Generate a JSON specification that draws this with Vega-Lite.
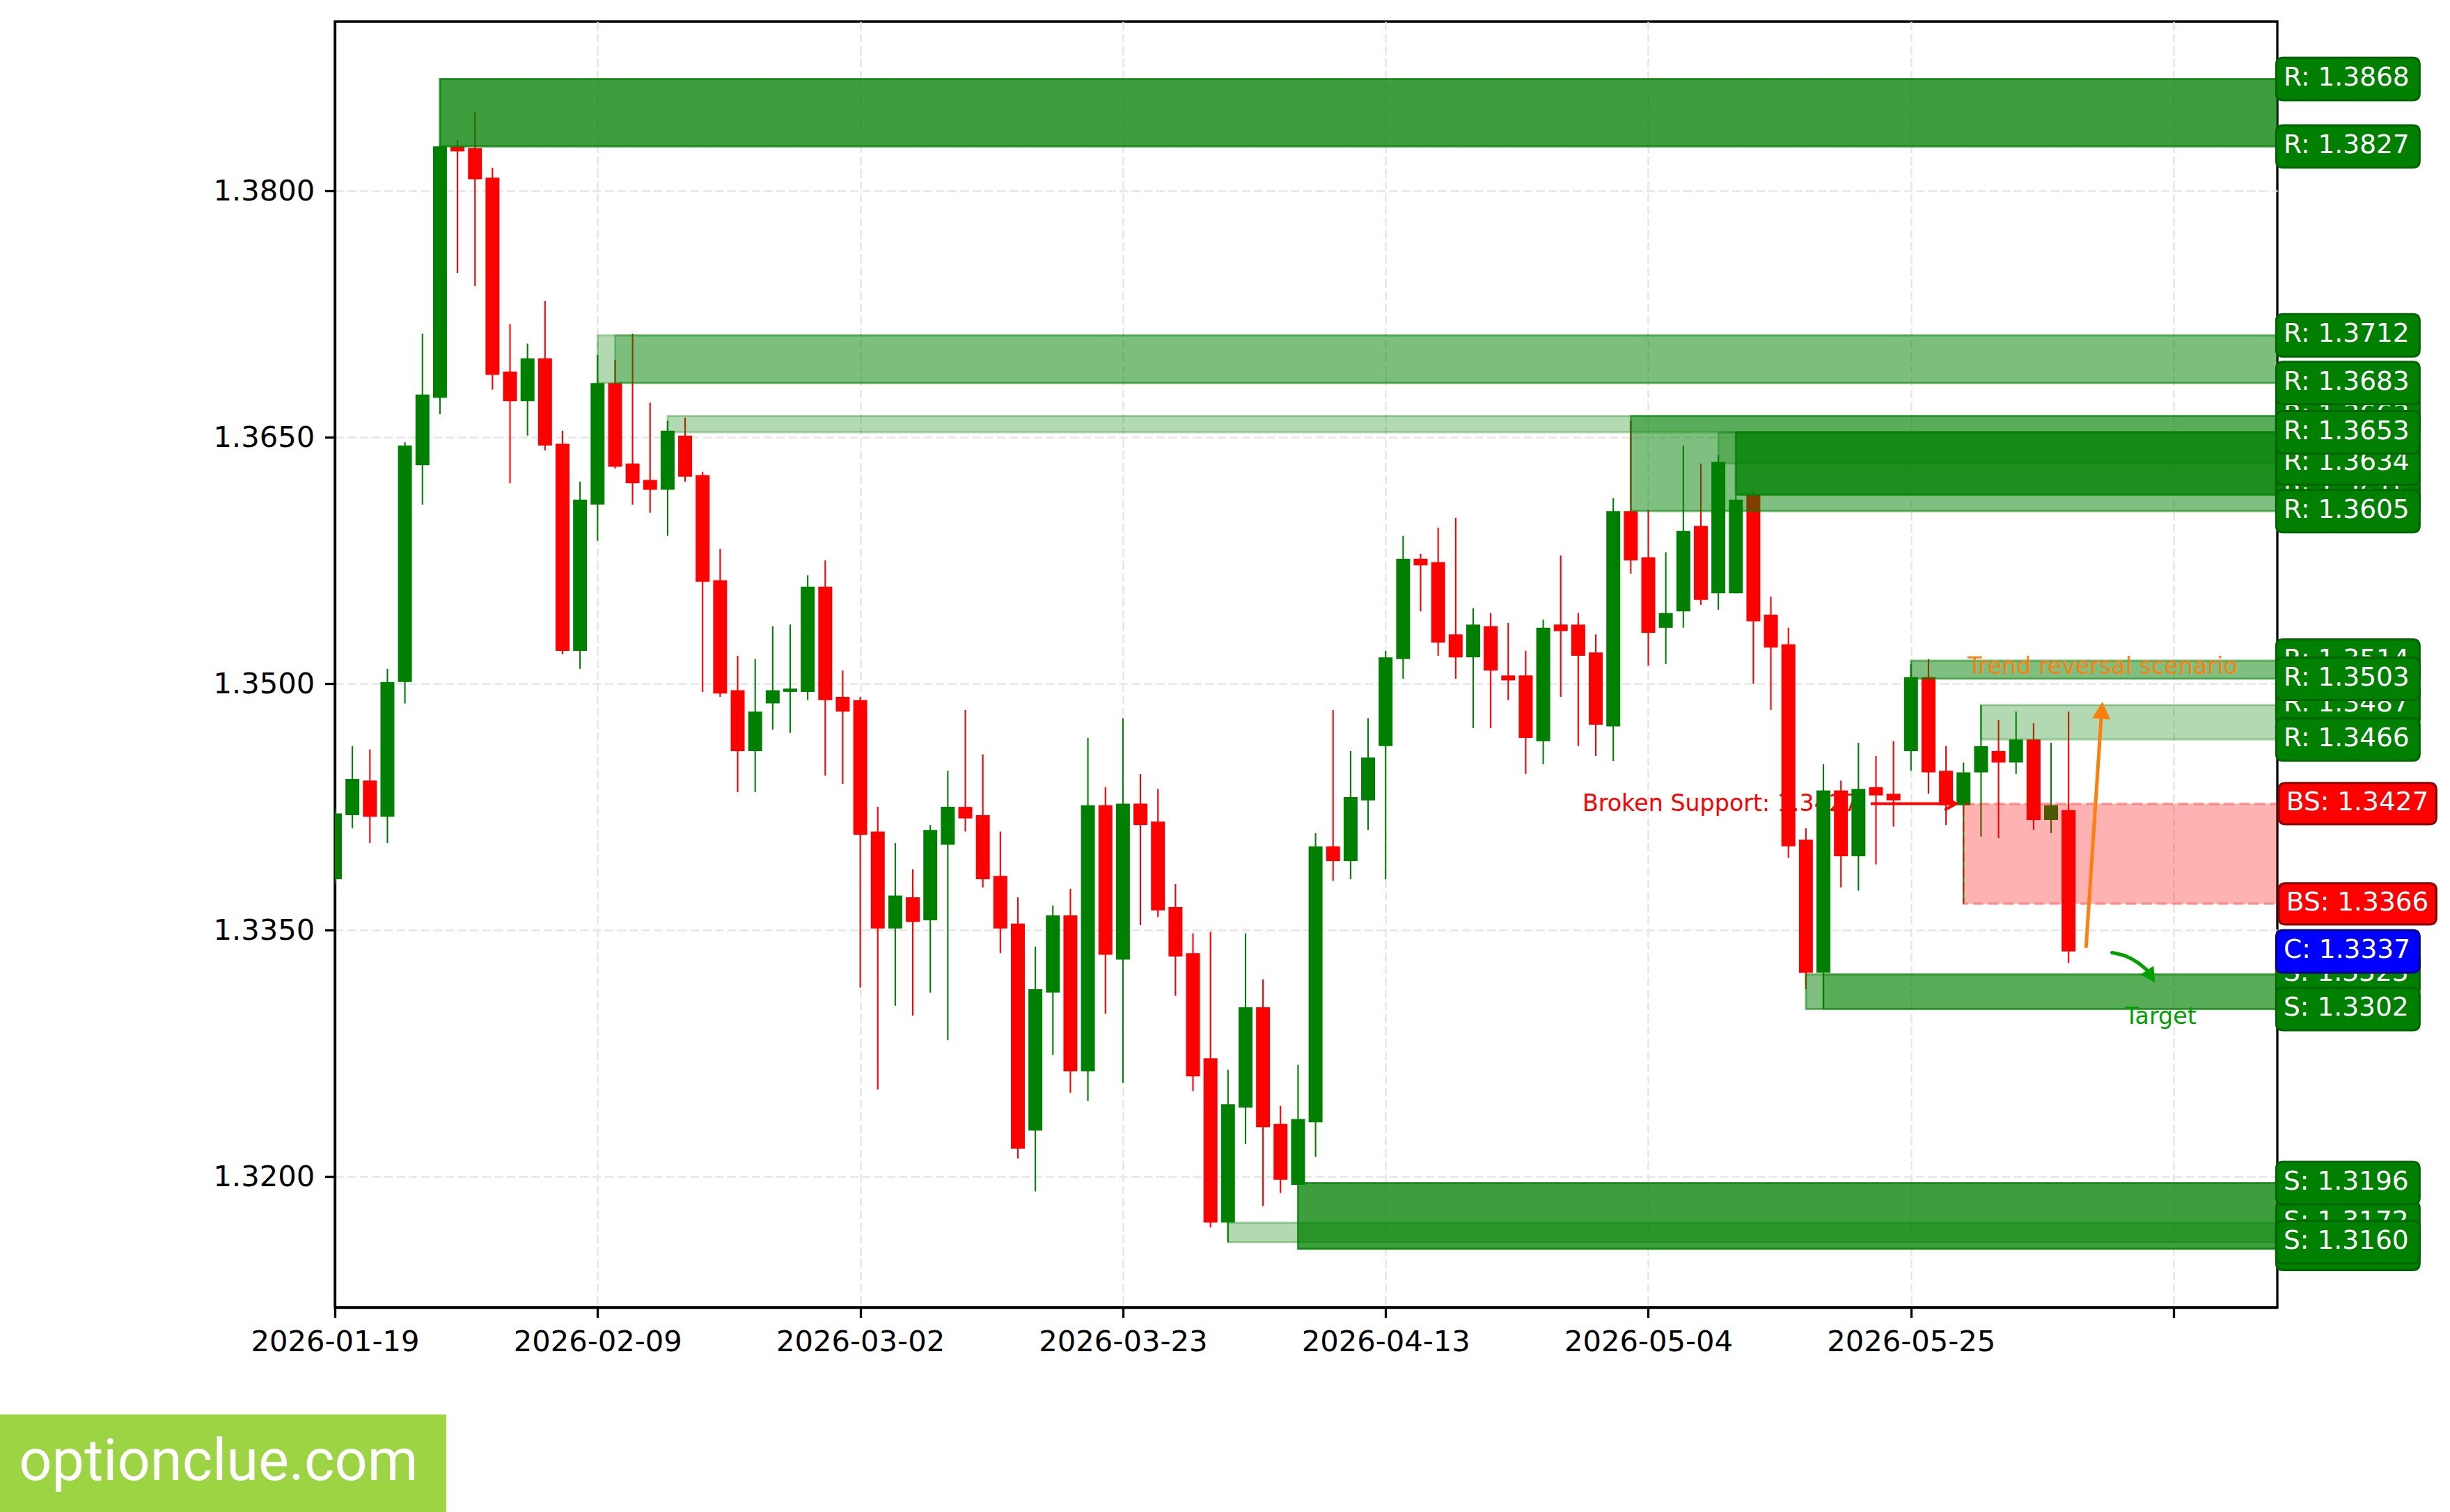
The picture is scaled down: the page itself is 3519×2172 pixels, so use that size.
{
"$schema":"https://vega.github.io/schema/vega-lite/v6.json",
"width":2790,"height":1847,
"autosize":{"type":"none"},
"padding":{"left":481,"top":31,"right":248,"bottom":294},
"background":"white",
"config":{"view":{"stroke":"black","strokeWidth":3.3},
"axis":{"labelFont":"DejaVu Sans","labelFontSize":41.67,"labelColor":"black","labelLimit":1000,"tickColor":"black","tickSize":14.6,"tickWidth":3.3,"labelPadding":14.6,"domain":true,"domainColor":"black","domainWidth":3.3,"grid":true,"gridColor":"#e6e6e6","gridDash":[12.3,5.3],"gridWidth":2.5,"labelFlush":false,"labelOverlap":false,"labelBound":false}},
"datasets":{
"candles":[
{"i":0,"d":"2026-01-19","o":1.3381,"h":1.3424,"l":1.3378,"c":1.3421},
{"i":1,"d":"2026-01-20","o":1.3420,"h":1.3462,"l":1.3412,"c":1.3442},
{"i":2,"d":"2026-01-21","o":1.3441,"h":1.3460,"l":1.3403,"c":1.3419},
{"i":3,"d":"2026-01-22","o":1.3419,"h":1.3509,"l":1.3403,"c":1.3501},
{"i":4,"d":"2026-01-23","o":1.3501,"h":1.3647,"l":1.3488,"c":1.3645},
{"i":5,"d":"2026-01-26","o":1.3633,"h":1.3713,"l":1.3609,"c":1.3676},
{"i":6,"d":"2026-01-27","o":1.3674,"h":1.3828,"l":1.3664,"c":1.3827},
{"i":7,"d":"2026-01-28","o":1.3827,"h":1.3831,"l":1.3750,"c":1.3824},
{"i":8,"d":"2026-01-29","o":1.3826,"h":1.3848,"l":1.3742,"c":1.3807},
{"i":9,"d":"2026-01-30","o":1.3808,"h":1.3814,"l":1.3679,"c":1.3688},
{"i":10,"d":"2026-02-02","o":1.3690,"h":1.3719,"l":1.3622,"c":1.3672},
{"i":11,"d":"2026-02-03","o":1.3672,"h":1.3707,"l":1.3651,"c":1.3698},
{"i":12,"d":"2026-02-04","o":1.3698,"h":1.3733,"l":1.3642,"c":1.3645},
{"i":13,"d":"2026-02-05","o":1.3646,"h":1.3654,"l":1.3518,"c":1.3520},
{"i":14,"d":"2026-02-06","o":1.3520,"h":1.3623,"l":1.3509,"c":1.3612},
{"i":15,"d":"2026-02-09","o":1.3609,"h":1.3700,"l":1.3587,"c":1.3683},
{"i":16,"d":"2026-02-10","o":1.3683,"h":1.3697,"l":1.3631,"c":1.3632},
{"i":17,"d":"2026-02-11","o":1.3634,"h":1.3713,"l":1.3609,"c":1.3622},
{"i":18,"d":"2026-02-12","o":1.3624,"h":1.3671,"l":1.3604,"c":1.3618},
{"i":19,"d":"2026-02-13","o":1.3618,"h":1.3660,"l":1.3590,"c":1.3654},
{"i":20,"d":"2026-02-16","o":1.3651,"h":1.3662,"l":1.3623,"c":1.3626},
{"i":21,"d":"2026-02-17","o":1.3627,"h":1.3629,"l":1.3495,"c":1.3562},
{"i":22,"d":"2026-02-18","o":1.3563,"h":1.3582,"l":1.3492,"c":1.3494},
{"i":23,"d":"2026-02-19","o":1.3496,"h":1.3517,"l":1.3434,"c":1.3459},
{"i":24,"d":"2026-02-20","o":1.3459,"h":1.3515,"l":1.3434,"c":1.3483},
{"i":25,"d":"2026-02-23","o":1.3488,"h":1.3535,"l":1.3472,"c":1.3496},
{"i":26,"d":"2026-02-24","o":1.3495,"h":1.3536,"l":1.3470,"c":1.3497},
{"i":27,"d":"2026-02-25","o":1.3495,"h":1.3566,"l":1.3490,"c":1.3559},
{"i":28,"d":"2026-02-26","o":1.3559,"h":1.3575,"l":1.3444,"c":1.3490},
{"i":29,"d":"2026-02-27","o":1.3492,"h":1.3508,"l":1.3439,"c":1.3483},
{"i":30,"d":"2026-03-02","o":1.3490,"h":1.3492,"l":1.3315,"c":1.3408},
{"i":31,"d":"2026-03-03","o":1.3410,"h":1.3425,"l":1.3253,"c":1.3351},
{"i":32,"d":"2026-03-04","o":1.3351,"h":1.3403,"l":1.3304,"c":1.3371},
{"i":33,"d":"2026-03-05","o":1.3370,"h":1.3387,"l":1.3298,"c":1.3355},
{"i":34,"d":"2026-03-06","o":1.3356,"h":1.3414,"l":1.3312,"c":1.3411},
{"i":35,"d":"2026-03-09","o":1.3402,"h":1.3447,"l":1.3283,"c":1.3425},
{"i":36,"d":"2026-03-10","o":1.3425,"h":1.3484,"l":1.3410,"c":1.3418},
{"i":37,"d":"2026-03-11","o":1.3420,"h":1.3457,"l":1.3376,"c":1.3381},
{"i":38,"d":"2026-03-12","o":1.3383,"h":1.3410,"l":1.3336,"c":1.3351},
{"i":39,"d":"2026-03-13","o":1.3354,"h":1.3370,"l":1.3211,"c":1.3217},
{"i":40,"d":"2026-03-16","o":1.3228,"h":1.3340,"l":1.3191,"c":1.3314},
{"i":41,"d":"2026-03-17","o":1.3312,"h":1.3365,"l":1.3274,"c":1.3359},
{"i":42,"d":"2026-03-18","o":1.3359,"h":1.3375,"l":1.3251,"c":1.3264},
{"i":43,"d":"2026-03-19","o":1.3264,"h":1.3467,"l":1.3246,"c":1.3426},
{"i":44,"d":"2026-03-20","o":1.3426,"h":1.3437,"l":1.3299,"c":1.3335},
{"i":45,"d":"2026-03-23","o":1.3332,"h":1.3479,"l":1.3257,"c":1.3427},
{"i":46,"d":"2026-03-24","o":1.3427,"h":1.3445,"l":1.3353,"c":1.3414},
{"i":47,"d":"2026-03-25","o":1.3416,"h":1.3436,"l":1.3358,"c":1.3362},
{"i":48,"d":"2026-03-26","o":1.3364,"h":1.3378,"l":1.3310,"c":1.3334},
{"i":49,"d":"2026-03-27","o":1.3336,"h":1.3348,"l":1.3252,"c":1.3261},
{"i":50,"d":"2026-03-30","o":1.3272,"h":1.3349,"l":1.3169,"c":1.3172},
{"i":51,"d":"2026-03-31","o":1.3172,"h":1.3265,"l":1.3160,"c":1.3244},
{"i":52,"d":"2026-04-01","o":1.3242,"h":1.3348,"l":1.3220,"c":1.3303},
{"i":53,"d":"2026-04-02","o":1.3303,"h":1.3320,"l":1.3182,"c":1.3230},
{"i":54,"d":"2026-04-03","o":1.3232,"h":1.3243,"l":1.3190,"c":1.3198},
{"i":55,"d":"2026-04-06","o":1.3195,"h":1.3268,"l":1.3195,"c":1.3235},
{"i":56,"d":"2026-04-07","o":1.3233,"h":1.3409,"l":1.3212,"c":1.3401},
{"i":57,"d":"2026-04-08","o":1.3401,"h":1.3484,"l":1.3380,"c":1.3392},
{"i":58,"d":"2026-04-09","o":1.3392,"h":1.3459,"l":1.3381,"c":1.3431},
{"i":59,"d":"2026-04-10","o":1.3429,"h":1.3479,"l":1.3411,"c":1.3455},
{"i":60,"d":"2026-04-13","o":1.3462,"h":1.3520,"l":1.3381,"c":1.3516},
{"i":61,"d":"2026-04-14","o":1.3515,"h":1.3590,"l":1.3503,"c":1.3576},
{"i":62,"d":"2026-04-15","o":1.3576,"h":1.3579,"l":1.3544,"c":1.3572},
{"i":63,"d":"2026-04-16","o":1.3574,"h":1.3595,"l":1.3517,"c":1.3525},
{"i":64,"d":"2026-04-17","o":1.3530,"h":1.3601,"l":1.3503,"c":1.3516},
{"i":65,"d":"2026-04-20","o":1.3516,"h":1.3546,"l":1.3473,"c":1.3536},
{"i":66,"d":"2026-04-21","o":1.3535,"h":1.3543,"l":1.3473,"c":1.3508},
{"i":67,"d":"2026-04-22","o":1.3505,"h":1.3537,"l":1.3490,"c":1.3502},
{"i":68,"d":"2026-04-23","o":1.3505,"h":1.3520,"l":1.3445,"c":1.3467},
{"i":69,"d":"2026-04-24","o":1.3465,"h":1.3539,"l":1.3451,"c":1.3534},
{"i":70,"d":"2026-04-27","o":1.3536,"h":1.3578,"l":1.3492,"c":1.3532},
{"i":71,"d":"2026-04-28","o":1.3536,"h":1.3543,"l":1.3462,"c":1.3517},
{"i":72,"d":"2026-04-29","o":1.3519,"h":1.3530,"l":1.3456,"c":1.3475},
{"i":73,"d":"2026-04-30","o":1.3474,"h":1.3613,"l":1.3453,"c":1.3605},
{"i":74,"d":"2026-05-01","o":1.3605,"h":1.3660,"l":1.3567,"c":1.3575},
{"i":75,"d":"2026-05-04","o":1.3577,"h":1.3606,"l":1.3511,"c":1.3531},
{"i":76,"d":"2026-05-05","o":1.3534,"h":1.3580,"l":1.3512,"c":1.3543},
{"i":77,"d":"2026-05-06","o":1.3544,"h":1.3645,"l":1.3534,"c":1.3593},
{"i":78,"d":"2026-05-07","o":1.3596,"h":1.3634,"l":1.3548,"c":1.3551},
{"i":79,"d":"2026-05-08","o":1.3555,"h":1.3639,"l":1.3545,"c":1.3635},
{"i":80,"d":"2026-05-11","o":1.3555,"h":1.3614,"l":1.3555,"c":1.3612},
{"i":81,"d":"2026-05-12","o":1.3615,"h":1.3617,"l":1.3500,"c":1.3538},
{"i":82,"d":"2026-05-13","o":1.3542,"h":1.3553,"l":1.3484,"c":1.3522},
{"i":83,"d":"2026-05-14","o":1.3524,"h":1.3534,"l":1.3394,"c":1.3401},
{"i":84,"d":"2026-05-15","o":1.3405,"h":1.3412,"l":1.3314,"c":1.3324},
{"i":85,"d":"2026-05-18","o":1.3324,"h":1.3451,"l":1.3302,"c":1.3435},
{"i":86,"d":"2026-05-19","o":1.3435,"h":1.3441,"l":1.3376,"c":1.3395},
{"i":87,"d":"2026-05-20","o":1.3395,"h":1.3464,"l":1.3374,"c":1.3436},
{"i":88,"d":"2026-05-21","o":1.3437,"h":1.3456,"l":1.3390,"c":1.3432},
{"i":89,"d":"2026-05-22","o":1.3433,"h":1.3465,"l":1.3413,"c":1.3429},
{"i":90,"d":"2026-05-25","o":1.3459,"h":1.3512,"l":1.3447,"c":1.3504},
{"i":91,"d":"2026-05-26","o":1.3504,"h":1.3515,"l":1.3433,"c":1.3446},
{"i":92,"d":"2026-05-27","o":1.3447,"h":1.3462,"l":1.3414,"c":1.3426},
{"i":93,"d":"2026-05-28","o":1.3426,"h":1.3452,"l":1.3366,"c":1.3446},
{"i":94,"d":"2026-05-29","o":1.3446,"h":1.3487,"l":1.3407,"c":1.3462},
{"i":95,"d":"2026-06-01","o":1.3459,"h":1.3478,"l":1.3406,"c":1.3452},
{"i":96,"d":"2026-06-02","o":1.3452,"h":1.3483,"l":1.3445,"c":1.3466},
{"i":97,"d":"2026-06-03","o":1.3466,"h":1.3476,"l":1.3411,"c":1.3417},
{"i":98,"d":"2026-06-04","o":1.3417,"h":1.3464,"l":1.3409,"c":1.3426},
{"i":99,"d":"2026-06-05","o":1.3423,"h":1.3483,"l":1.3330,"c":1.3337}
],
"zones":[
{"x0":6,"lo":1.3827,"hi":1.3868,"kind":"R","strength":"strong"},
{"x0":15,"lo":1.3683,"hi":1.3712,"kind":"R","strength":"weak"},
{"x0":16,"lo":1.3683,"hi":1.3712,"kind":"R","strength":"weak"},
{"x0":19,"lo":1.3653,"hi":1.3663,"kind":"R","strength":"weak"},
{"x0":74,"lo":1.3605,"hi":1.3663,"kind":"R","strength":"medium"},
{"x0":79,"lo":1.3634,"hi":1.3653,"kind":"R","strength":"weak"},
{"x0":80,"lo":1.3615,"hi":1.3653,"kind":"R","strength":"strong"},
{"x0":90,"lo":1.3503,"hi":1.3514,"kind":"R","strength":"medium"},
{"x0":94,"lo":1.3466,"hi":1.3487,"kind":"R","strength":"weak"},
{"x0":51,"lo":1.3160,"hi":1.3172,"kind":"S","strength":"weak"},
{"x0":55,"lo":1.3156,"hi":1.3196,"kind":"S","strength":"strong"},
{"x0":84,"lo":1.3302,"hi":1.3323,"kind":"S","strength":"medium"},
{"x0":85,"lo":1.3302,"hi":1.3323,"kind":"S","strength":"weak"},
{"x0":93,"lo":1.3366,"hi":1.3427,"kind":"BS","strength":"broken"}
],
"labelsBack":[
{"v":1.3663,"t":"R: 1.3663","kind":"R"},
{"v":1.3615,"t":"R: 1.3615","kind":"R"},
{"v":1.3514,"t":"R: 1.3514","kind":"R"},
{"v":1.3487,"t":"R: 1.3487","kind":"R"},
{"v":1.3323,"t":"S: 1.3323","kind":"S"},
{"v":1.3156,"t":"S: 1.3156","kind":"S"},
{"v":1.3172,"t":"S: 1.3172","kind":"S"}
],
"labelsMid":[
{"v":1.3868,"t":"R: 1.3868","kind":"R"},
{"v":1.3827,"t":"R: 1.3827","kind":"R"},
{"v":1.3712,"t":"R: 1.3712","kind":"R"},
{"v":1.3683,"t":"R: 1.3683","kind":"R"},
{"v":1.3634,"t":"R: 1.3634","kind":"R"},
{"v":1.3605,"t":"R: 1.3605","kind":"R"},
{"v":1.3503,"t":"R: 1.3503","kind":"R"},
{"v":1.3466,"t":"R: 1.3466","kind":"R"},
{"v":1.3337,"t":"C: 1.3337","kind":"C"},
{"v":1.3302,"t":"S: 1.3302","kind":"S"},
{"v":1.3196,"t":"S: 1.3196","kind":"S"},
{"v":1.3160,"t":"S: 1.3160","kind":"S"}
],
"labelsTop":[
{"v":1.3653,"t":"R: 1.3653","kind":"R"}
],
"labelsBS":[
{"v":1.3427,"t":"BS: 1.3427","kind":"BS"},
{"v":1.3366,"t":"BS: 1.3366","kind":"BS"}
],
"targetCurve":[
{"x":101.48,"y":1.33363},
{"x":102.28,"y":1.33341},
{"x":102.94,"y":1.33303},
{"x":103.47,"y":1.33257}
]
},
"layer":[
{"data":{"values":[{}]},
 "mark":{"type":"text","text":"Broken Support: 1.3427","align":"right","baseline":"alphabetic","font":"DejaVu Sans","fontSize":33.3,"color":"#ff0000"},
 "encoding":{
  "x":{"datum":87.0,"type":"quantitative","scale":{"domain":[0,110.92],"nice":false,"zero":false,"padding":0},"axis":{"title":null,"values":[0,15,30,45,60,75,90,105],"labelExpr":"['2026-01-19','2026-02-09','2026-03-02','2026-03-23','2026-04-13','2026-05-04','2026-05-25',''][round(datum.value/15)]"}},
  "y":{"datum":1.34225,"type":"quantitative","scale":{"domain":[1.31204,1.3903],"nice":false,"zero":false,"padding":0},"axis":{"title":null,"values":[1.32,1.335,1.35,1.365,1.38],"format":".4f"}}}},
{"data":{"name":"candles"},
 "mark":{"type":"rule","strokeWidth":2.1,"clip":true},
 "encoding":{
  "x":{"field":"i","type":"quantitative","scale":{"domain":[0,110.92],"nice":false,"zero":false,"padding":0},"axis":{"title":null,"values":[0,15,30,45,60,75,90,105],"labelExpr":"['2026-01-19','2026-02-09','2026-03-02','2026-03-23','2026-04-13','2026-05-04','2026-05-25',''][round(datum.value/15)]"}},
  "y":{"field":"l","type":"quantitative","scale":{"domain":[1.31204,1.3903],"nice":false,"zero":false,"padding":0},"axis":{"title":null,"values":[1.32,1.335,1.35,1.365,1.38],"format":".4f"}},
  "y2":{"field":"h"},
  "color":{"condition":{"test":"datum.c >= datum.o","value":"#008000"},"value":"#ff0000"}}},
{"data":{"name":"candles"},
 "mark":{"type":"bar","width":20,"clip":true},
 "encoding":{
  "x":{"field":"i","type":"quantitative","scale":{"domain":[0,110.92],"nice":false,"zero":false,"padding":0},"axis":{"title":null,"values":[0,15,30,45,60,75,90,105],"labelExpr":"['2026-01-19','2026-02-09','2026-03-02','2026-03-23','2026-04-13','2026-05-04','2026-05-25',''][round(datum.value/15)]"}},
  "y":{"field":"o","type":"quantitative","scale":{"domain":[1.31204,1.3903],"nice":false,"zero":false,"padding":0},"axis":{"title":null,"values":[1.32,1.335,1.35,1.365,1.38],"format":".4f"}},
  "y2":{"field":"c"},
  "color":{"condition":{"test":"datum.c >= datum.o","value":"#008000"},"value":"#ff0000"}}},
{"data":{"name":"zones"},
 "transform":[{"filter":"datum.kind != 'BS'"}],
 "mark":{"type":"rect","fill":"#008000","stroke":"#008000","strokeWidth":3,"clip":true},
 "encoding":{
  "x":{"field":"x0","type":"quantitative","scale":{"domain":[0,110.92],"nice":false,"zero":false,"padding":0},"axis":{"title":null,"values":[0,15,30,45,60,75,90,105],"labelExpr":"['2026-01-19','2026-02-09','2026-03-02','2026-03-23','2026-04-13','2026-05-04','2026-05-25',''][round(datum.value/15)]"}},
  "x2":{"datum":120},
  "y":{"field":"lo","type":"quantitative","scale":{"domain":[1.31204,1.3903],"nice":false,"zero":false,"padding":0},"axis":{"title":null,"values":[1.32,1.335,1.35,1.365,1.38],"format":".4f"}},
  "y2":{"field":"hi"},
  "fillOpacity":{"field":"strength","type":"nominal","scale":{"type":"ordinal","domain":["weak","medium","strong"],"range":[0.3,0.5,0.76]},"legend":null},
  "strokeOpacity":{"field":"strength","type":"nominal","scale":{"type":"ordinal","domain":["weak","medium","strong"],"range":[0.3,0.5,0.76]},"legend":null}}},
{"data":{"name":"zones"},
 "transform":[{"filter":"datum.kind == 'BS'"}],
 "mark":{"type":"rect","fill":"#ff0000","fillOpacity":0.3,"stroke":"#ff0000","strokeOpacity":0.3,"strokeWidth":3.5,"strokeDash":[15,7],"clip":true},
 "encoding":{
  "x":{"field":"x0","type":"quantitative","scale":{"domain":[0,110.92],"nice":false,"zero":false,"padding":0},"axis":{"title":null,"values":[0,15,30,45,60,75,90,105],"labelExpr":"['2026-01-19','2026-02-09','2026-03-02','2026-03-23','2026-04-13','2026-05-04','2026-05-25',''][round(datum.value/15)]"}},
  "x2":{"datum":120},
  "y":{"field":"lo","type":"quantitative","scale":{"domain":[1.31204,1.3903],"nice":false,"zero":false,"padding":0},"axis":{"title":null,"values":[1.32,1.335,1.35,1.365,1.38],"format":".4f"}},
  "y2":{"field":"hi"}}},
{"data":{"values":[{}]},
 "mark":{"type":"rule","color":"#ff0000","strokeWidth":4},
 "encoding":{
  "x":{"datum":87.7,"type":"quantitative","scale":{"domain":[0,110.92],"nice":false,"zero":false,"padding":0},"axis":{"title":null,"values":[0,15,30,45,60,75,90,105],"labelExpr":"['2026-01-19','2026-02-09','2026-03-02','2026-03-23','2026-04-13','2026-05-04','2026-05-25',''][round(datum.value/15)]"}},
  "x2":{"datum":92.5},
  "y":{"datum":1.3427,"type":"quantitative","scale":{"domain":[1.31204,1.3903],"nice":false,"zero":false,"padding":0},"axis":{"title":null,"values":[1.32,1.335,1.35,1.365,1.38],"format":".4f"}}}},
{"data":{"values":[{}]},
 "mark":{"type":"point","shape":"M-1,-0.55L0,0L-1,0.55","filled":false,"stroke":"#ff0000","strokeWidth":4,"size":900,"opacity":1,"strokeCap":"round"},
 "encoding":{
  "x":{"datum":92.58,"type":"quantitative","scale":{"domain":[0,110.92],"nice":false,"zero":false,"padding":0},"axis":{"title":null,"values":[0,15,30,45,60,75,90,105],"labelExpr":"['2026-01-19','2026-02-09','2026-03-02','2026-03-23','2026-04-13','2026-05-04','2026-05-25',''][round(datum.value/15)]"}},
  "y":{"datum":1.3427,"type":"quantitative","scale":{"domain":[1.31204,1.3903],"nice":false,"zero":false,"padding":0},"axis":{"title":null,"values":[1.32,1.335,1.35,1.365,1.38],"format":".4f"}}}},
{"data":{"values":[{}]},
 "mark":{"type":"rule","color":"#ff7f0e","strokeWidth":5,"strokeCap":"round"},
 "encoding":{
  "x":{"datum":100.0,"type":"quantitative","scale":{"domain":[0,110.92],"nice":false,"zero":false,"padding":0},"axis":{"title":null,"values":[0,15,30,45,60,75,90,105],"labelExpr":"['2026-01-19','2026-02-09','2026-03-02','2026-03-23','2026-04-13','2026-05-04','2026-05-25',''][round(datum.value/15)]"}},
  "x2":{"datum":100.88},
  "y":{"datum":1.3340,"type":"quantitative","scale":{"domain":[1.31204,1.3903],"nice":false,"zero":false,"padding":0},"axis":{"title":null,"values":[1.32,1.335,1.35,1.365,1.38],"format":".4f"}},
  "y2":{"datum":1.3482}}},
{"data":{"values":[{}]},
 "mark":{"type":"point","shape":"M0,0L0.53,1L-0.53,1Z","filled":true,"color":"#ff7f0e","size":2400,"angle":3.8,"opacity":1},
 "encoding":{
  "x":{"datum":100.93,"type":"quantitative","scale":{"domain":[0,110.92],"nice":false,"zero":false,"padding":0},"axis":{"title":null,"values":[0,15,30,45,60,75,90,105],"labelExpr":"['2026-01-19','2026-02-09','2026-03-02','2026-03-23','2026-04-13','2026-05-04','2026-05-25',''][round(datum.value/15)]"}},
  "y":{"datum":1.3489,"type":"quantitative","scale":{"domain":[1.31204,1.3903],"nice":false,"zero":false,"padding":0},"axis":{"title":null,"values":[1.32,1.335,1.35,1.365,1.38],"format":".4f"}}}},
{"data":{"values":[{}]},
 "mark":{"type":"text","text":"Trend reversal scenario","align":"center","baseline":"alphabetic","font":"DejaVu Sans","fontSize":33.3,"color":"#ff7f0e"},
 "encoding":{
  "x":{"datum":100.94,"type":"quantitative","scale":{"domain":[0,110.92],"nice":false,"zero":false,"padding":0},"axis":{"title":null,"values":[0,15,30,45,60,75,90,105],"labelExpr":"['2026-01-19','2026-02-09','2026-03-02','2026-03-23','2026-04-13','2026-05-04','2026-05-25',''][round(datum.value/15)]"}},
  "y":{"datum":1.3506,"type":"quantitative","scale":{"domain":[1.31204,1.3903],"nice":false,"zero":false,"padding":0},"axis":{"title":null,"values":[1.32,1.335,1.35,1.365,1.38],"format":".4f"}}}},
{"data":{"name":"targetCurve"},
 "mark":{"type":"line","color":"#00a000","strokeWidth":5,"strokeCap":"round","interpolate":"monotone"},
 "encoding":{
  "x":{"field":"x","type":"quantitative","scale":{"domain":[0,110.92],"nice":false,"zero":false,"padding":0},"axis":{"title":null,"values":[0,15,30,45,60,75,90,105],"labelExpr":"['2026-01-19','2026-02-09','2026-03-02','2026-03-23','2026-04-13','2026-05-04','2026-05-25',''][round(datum.value/15)]"}},
  "y":{"field":"y","type":"quantitative","scale":{"domain":[1.31204,1.3903],"nice":false,"zero":false,"padding":0},"axis":{"title":null,"values":[1.32,1.335,1.35,1.365,1.38],"format":".4f"}}}},
{"data":{"values":[{}]},
 "mark":{"type":"point","shape":"M0,0L0.54,1L-0.54,1Z","filled":true,"color":"#00a000","size":1800,"angle":146.7,"opacity":1},
 "encoding":{
  "x":{"datum":103.94,"type":"quantitative","scale":{"domain":[0,110.92],"nice":false,"zero":false,"padding":0},"axis":{"title":null,"values":[0,15,30,45,60,75,90,105],"labelExpr":"['2026-01-19','2026-02-09','2026-03-02','2026-03-23','2026-04-13','2026-05-04','2026-05-25',''][round(datum.value/15)]"}},
  "y":{"datum":1.33181,"type":"quantitative","scale":{"domain":[1.31204,1.3903],"nice":false,"zero":false,"padding":0},"axis":{"title":null,"values":[1.32,1.335,1.35,1.365,1.38],"format":".4f"}}}},
{"data":{"values":[{}]},
 "mark":{"type":"text","text":"Target","align":"center","baseline":"alphabetic","font":"DejaVu Sans","fontSize":33.3,"color":"#00a000"},
 "encoding":{
  "x":{"datum":104.25,"type":"quantitative","scale":{"domain":[0,110.92],"nice":false,"zero":false,"padding":0},"axis":{"title":null,"values":[0,15,30,45,60,75,90,105],"labelExpr":"['2026-01-19','2026-02-09','2026-03-02','2026-03-23','2026-04-13','2026-05-04','2026-05-25',''][round(datum.value/15)]"}},
  "y":{"datum":1.3293,"type":"quantitative","scale":{"domain":[1.31204,1.3903],"nice":false,"zero":false,"padding":0},"axis":{"title":null,"values":[1.32,1.335,1.35,1.365,1.38],"format":".4f"}}}},
{"data":{"name":"labelsBack"},
 "mark":{"type":"point","shape":"M-0.903,-0.296L0.903,-0.296Q1,-0.296,1,-0.199L1,0.199Q1,0.296,0.903,0.296L-0.903,0.296Q-1,0.296,-1,0.199L-1,-0.199Q-1,-0.296,-0.903,-0.296Z","filled":true,"size":42436,"strokeWidth":3,"opacity":1},
 "encoding":{
  "x":{"datum":114.95,"type":"quantitative","scale":{"domain":[0,110.92],"nice":false,"zero":false,"padding":0},"axis":{"title":null,"values":[0,15,30,45,60,75,90,105],"labelExpr":"['2026-01-19','2026-02-09','2026-03-02','2026-03-23','2026-04-13','2026-05-04','2026-05-25',''][round(datum.value/15)]"}},
  "y":{"field":"v","type":"quantitative","scale":{"domain":[1.31204,1.3903],"nice":false,"zero":false,"padding":0},"axis":{"title":null,"values":[1.32,1.335,1.35,1.365,1.38],"format":".4f"}},
  "color":{"field":"kind","type":"nominal","scale":{"domain":["R","S","C","BS"],"range":["#008000","#008000","#0000ff","#ff0000"]},"legend":null},
  "stroke":{"field":"kind","type":"nominal","scale":{"domain":["R","S","C","BS"],"range":["#006400","#006400","#00008b","#8b0000"]},"legend":null}}},
{"data":{"name":"labelsBack"},
 "mark":{"type":"text","align":"left","baseline":"alphabetic","dy":9.5,"font":"DejaVu Sans","fontSize":37.5,"color":"white"},
 "encoding":{
  "x":{"datum":111.28,"type":"quantitative","scale":{"domain":[0,110.92],"nice":false,"zero":false,"padding":0},"axis":{"title":null,"values":[0,15,30,45,60,75,90,105],"labelExpr":"['2026-01-19','2026-02-09','2026-03-02','2026-03-23','2026-04-13','2026-05-04','2026-05-25',''][round(datum.value/15)]"}},
  "y":{"field":"v","type":"quantitative","scale":{"domain":[1.31204,1.3903],"nice":false,"zero":false,"padding":0},"axis":{"title":null,"values":[1.32,1.335,1.35,1.365,1.38],"format":".4f"}},
  "text":{"field":"t"}}},
{"data":{"name":"labelsMid"},
 "mark":{"type":"point","shape":"M-0.903,-0.296L0.903,-0.296Q1,-0.296,1,-0.199L1,0.199Q1,0.296,0.903,0.296L-0.903,0.296Q-1,0.296,-1,0.199L-1,-0.199Q-1,-0.296,-0.903,-0.296Z","filled":true,"size":42436,"strokeWidth":3,"opacity":1},
 "encoding":{
  "x":{"datum":114.95,"type":"quantitative","scale":{"domain":[0,110.92],"nice":false,"zero":false,"padding":0},"axis":{"title":null,"values":[0,15,30,45,60,75,90,105],"labelExpr":"['2026-01-19','2026-02-09','2026-03-02','2026-03-23','2026-04-13','2026-05-04','2026-05-25',''][round(datum.value/15)]"}},
  "y":{"field":"v","type":"quantitative","scale":{"domain":[1.31204,1.3903],"nice":false,"zero":false,"padding":0},"axis":{"title":null,"values":[1.32,1.335,1.35,1.365,1.38],"format":".4f"}},
  "color":{"field":"kind","type":"nominal","scale":{"domain":["R","S","C","BS"],"range":["#008000","#008000","#0000ff","#ff0000"]},"legend":null},
  "stroke":{"field":"kind","type":"nominal","scale":{"domain":["R","S","C","BS"],"range":["#006400","#006400","#00008b","#8b0000"]},"legend":null}}},
{"data":{"name":"labelsMid"},
 "mark":{"type":"text","align":"left","baseline":"alphabetic","dy":9.5,"font":"DejaVu Sans","fontSize":37.5,"color":"white"},
 "encoding":{
  "x":{"datum":111.28,"type":"quantitative","scale":{"domain":[0,110.92],"nice":false,"zero":false,"padding":0},"axis":{"title":null,"values":[0,15,30,45,60,75,90,105],"labelExpr":"['2026-01-19','2026-02-09','2026-03-02','2026-03-23','2026-04-13','2026-05-04','2026-05-25',''][round(datum.value/15)]"}},
  "y":{"field":"v","type":"quantitative","scale":{"domain":[1.31204,1.3903],"nice":false,"zero":false,"padding":0},"axis":{"title":null,"values":[1.32,1.335,1.35,1.365,1.38],"format":".4f"}},
  "text":{"field":"t"}}},
{"data":{"name":"labelsBS"},
 "mark":{"type":"point","shape":"M-0.912,-0.2625L0.912,-0.2625Q1,-0.2625,1,-0.174L1,0.174Q1,0.2625,0.912,0.2625L-0.912,0.2625Q-1,0.2625,-1,0.174L-1,-0.174Q-1,-0.2625,-0.912,-0.2625Z","filled":true,"size":51212,"strokeWidth":3,"opacity":1},
 "encoding":{
  "x":{"datum":115.5,"type":"quantitative","scale":{"domain":[0,110.92],"nice":false,"zero":false,"padding":0},"axis":{"title":null,"values":[0,15,30,45,60,75,90,105],"labelExpr":"['2026-01-19','2026-02-09','2026-03-02','2026-03-23','2026-04-13','2026-05-04','2026-05-25',''][round(datum.value/15)]"}},
  "y":{"field":"v","type":"quantitative","scale":{"domain":[1.31204,1.3903],"nice":false,"zero":false,"padding":0},"axis":{"title":null,"values":[1.32,1.335,1.35,1.365,1.38],"format":".4f"}},
  "color":{"field":"kind","type":"nominal","scale":{"domain":["R","S","C","BS"],"range":["#008000","#008000","#0000ff","#ff0000"]},"legend":null},
  "stroke":{"field":"kind","type":"nominal","scale":{"domain":["R","S","C","BS"],"range":["#006400","#006400","#00008b","#8b0000"]},"legend":null}}},
{"data":{"name":"labelsBS"},
 "mark":{"type":"text","align":"left","baseline":"alphabetic","dy":10,"font":"DejaVu Sans","fontSize":37.5,"color":"white"},
 "encoding":{
  "x":{"datum":111.43,"type":"quantitative","scale":{"domain":[0,110.92],"nice":false,"zero":false,"padding":0},"axis":{"title":null,"values":[0,15,30,45,60,75,90,105],"labelExpr":"['2026-01-19','2026-02-09','2026-03-02','2026-03-23','2026-04-13','2026-05-04','2026-05-25',''][round(datum.value/15)]"}},
  "y":{"field":"v","type":"quantitative","scale":{"domain":[1.31204,1.3903],"nice":false,"zero":false,"padding":0},"axis":{"title":null,"values":[1.32,1.335,1.35,1.365,1.38],"format":".4f"}},
  "text":{"field":"t"}}},
{"data":{"name":"labelsTop"},
 "mark":{"type":"point","shape":"M-0.903,-0.296L0.903,-0.296Q1,-0.296,1,-0.199L1,0.199Q1,0.296,0.903,0.296L-0.903,0.296Q-1,0.296,-1,0.199L-1,-0.199Q-1,-0.296,-0.903,-0.296Z","filled":true,"size":42436,"strokeWidth":3,"opacity":1},
 "encoding":{
  "x":{"datum":114.95,"type":"quantitative","scale":{"domain":[0,110.92],"nice":false,"zero":false,"padding":0},"axis":{"title":null,"values":[0,15,30,45,60,75,90,105],"labelExpr":"['2026-01-19','2026-02-09','2026-03-02','2026-03-23','2026-04-13','2026-05-04','2026-05-25',''][round(datum.value/15)]"}},
  "y":{"field":"v","type":"quantitative","scale":{"domain":[1.31204,1.3903],"nice":false,"zero":false,"padding":0},"axis":{"title":null,"values":[1.32,1.335,1.35,1.365,1.38],"format":".4f"}},
  "color":{"field":"kind","type":"nominal","scale":{"domain":["R","S","C","BS"],"range":["#008000","#008000","#0000ff","#ff0000"]},"legend":null},
  "stroke":{"field":"kind","type":"nominal","scale":{"domain":["R","S","C","BS"],"range":["#006400","#006400","#00008b","#8b0000"]},"legend":null}}},
{"data":{"name":"labelsTop"},
 "mark":{"type":"text","align":"left","baseline":"alphabetic","dy":9.5,"font":"DejaVu Sans","fontSize":37.5,"color":"white"},
 "encoding":{
  "x":{"datum":111.28,"type":"quantitative","scale":{"domain":[0,110.92],"nice":false,"zero":false,"padding":0},"axis":{"title":null,"values":[0,15,30,45,60,75,90,105],"labelExpr":"['2026-01-19','2026-02-09','2026-03-02','2026-03-23','2026-04-13','2026-05-04','2026-05-25',''][round(datum.value/15)]"}},
  "y":{"field":"v","type":"quantitative","scale":{"domain":[1.31204,1.3903],"nice":false,"zero":false,"padding":0},"axis":{"title":null,"values":[1.32,1.335,1.35,1.365,1.38],"format":".4f"}},
  "text":{"field":"t"}}},
{"data":{"values":[{}]},
 "mark":{"type":"rect","color":"#9dd443"},
 "encoding":{
  "x":{"datum":-19.2,"type":"quantitative","scale":{"domain":[0,110.92],"nice":false,"zero":false,"padding":0},"axis":{"title":null,"values":[0,15,30,45,60,75,90,105],"labelExpr":"['2026-01-19','2026-02-09','2026-03-02','2026-03-23','2026-04-13','2026-05-04','2026-05-25',''][round(datum.value/15)]"}},
  "x2":{"datum":6.357},
  "y":{"datum":1.30553,"type":"quantitative","scale":{"domain":[1.31204,1.3903],"nice":false,"zero":false,"padding":0},"axis":{"title":null,"values":[1.32,1.335,1.35,1.365,1.38],"format":".4f"}},
  "y2":{"datum":1.2990}}},
{"data":{"values":[{}]},
 "mark":{"type":"text","text":"optionclue.com","align":"left","baseline":"alphabetic","font":"Roboto","fontSize":83,"color":"white"},
 "encoding":{
  "x":{"datum":-18.04,"type":"quantitative","scale":{"domain":[0,110.92],"nice":false,"zero":false,"padding":0},"axis":{"title":null,"values":[0,15,30,45,60,75,90,105],"labelExpr":"['2026-01-19','2026-02-09','2026-03-02','2026-03-23','2026-04-13','2026-05-04','2026-05-25',''][round(datum.value/15)]"}},
  "y":{"datum":1.30155,"type":"quantitative","scale":{"domain":[1.31204,1.3903],"nice":false,"zero":false,"padding":0},"axis":{"title":null,"values":[1.32,1.335,1.35,1.365,1.38],"format":".4f"}}}}
]
}
